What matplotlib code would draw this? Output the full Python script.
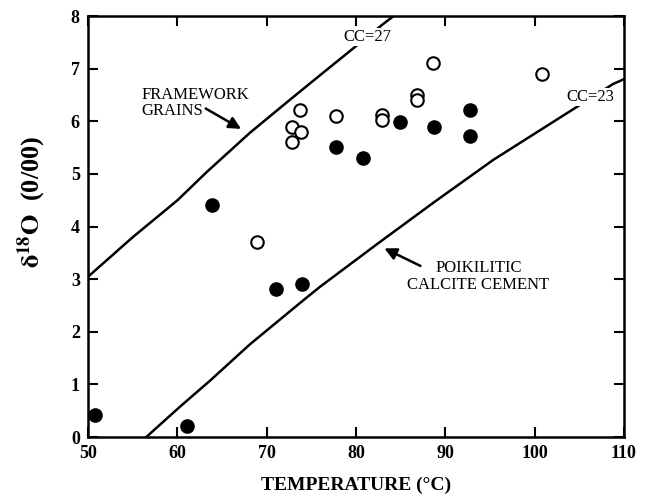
import matplotlib
matplotlib.use('Agg')
import matplotlib.pyplot as plt

plt.rcParams['font.family'] = ['Liberation Serif', 'DejaVu Serif']
plt.rcParams['mathtext.fontset'] = 'stix'

# open circles
open_t = [88.6, 86.8, 86.8, 73.7, 72.8, 73.8, 72.8, 77.8, 82.9, 82.9, 100.8, 68.9]
open_d = [7.10, 6.50, 6.40, 6.22, 5.90, 5.80, 5.60, 6.11, 6.13, 6.03, 6.90, 3.71]

# filled circles
fill_t = [84.9, 88.7, 92.8, 92.8, 77.8, 80.8, 63.9, 71.0, 73.9, 50.8, 61.1]
fill_d = [5.99, 5.90, 6.22, 5.72, 5.52, 5.30, 4.41, 2.81, 2.90, 0.42, 0.21]

# equilibrium curves
cc27_t = [50, 55, 60, 63.3, 68.1, 72.6, 76, 79.5, 82.9, 84.2]
cc27_d = [3.05, 3.80, 4.50, 5.04, 5.78, 6.41, 6.88, 7.36, 7.83, 8.0]
cc23_t = [56.5, 60.3, 63.7, 68.1, 74.1, 76.0, 82.7, 88.8, 95.4, 104.7, 108.8, 110]
cc23_d = [0.0, 0.58, 1.08, 1.76, 2.60, 2.86, 3.71, 4.47, 5.27, 6.27, 6.71, 6.80]

fig = plt.figure(figsize=(6.58, 5.03), dpi=100)
ax = fig.add_axes([0.134, 0.131, 0.814, 0.837])

ax.plot(cc27_t, cc27_d, color='black', lw=1.8)
ax.plot(cc23_t, cc23_d, color='black', lw=1.8)

ax.plot(open_t, open_d, 'o', ms=9, mfc='white', mec='black', mew=1.5)
ax.plot(fill_t, fill_d, 'o', ms=9.5, mfc='black', mec='black')

# curve labels (white box breaks the line like the original)
box = dict(facecolor='white', edgecolor='none', pad=1)
ax.text(81.3, 7.6, 'CC=27', ha='center', va='center', fontsize=12, bbox=box)
ax.text(106.3, 6.46, 'CC=23', ha='center', va='center', fontsize=12, bbox=box)

ax.text(56.0, 6.35, 'FRAMEWORK\nGRAINS', ha='left', va='center', fontsize=12,
        linespacing=1.0)
ax.annotate('', xy=(67.4, 5.83), xytext=(62.9, 6.27),
            arrowprops=dict(arrowstyle='-|>', color='black', lw=1.8,
                            mutation_scale=18))
ax.text(93.7, 3.05, 'POIKILITIC\nCALCITE CEMENT', ha='center', va='center',
        fontsize=12, linespacing=1.05)
ax.annotate('', xy=(82.9, 3.61), xytext=(87.5, 3.23),
            arrowprops=dict(arrowstyle='-|>', color='black', lw=1.8,
                            mutation_scale=18))

ax.set_xlim(50, 110)
ax.set_ylim(0, 8)
ax.set_xticks(range(50, 111, 10))
ax.set_yticks(range(0, 9))
ax.tick_params(direction='in', top=True, right=True, length=7, width=1.5,
               labelsize=13, pad=6)
for lab in ax.get_xticklabels() + ax.get_yticklabels():
    lab.set_fontweight('bold')
for sp in ax.spines.values():
    sp.set_linewidth(1.8)

ax.set_xlabel('TEMPERATURE (°C)', fontsize=14, fontweight='bold', labelpad=10)
ax.set_ylabel(r'$\mathbf{\delta^{18}O}$  (0/00)', fontsize=19, fontweight='bold')
ax.yaxis.set_label_coords(-0.075, 0.56)

fig.savefig('out.png', dpi=100)
